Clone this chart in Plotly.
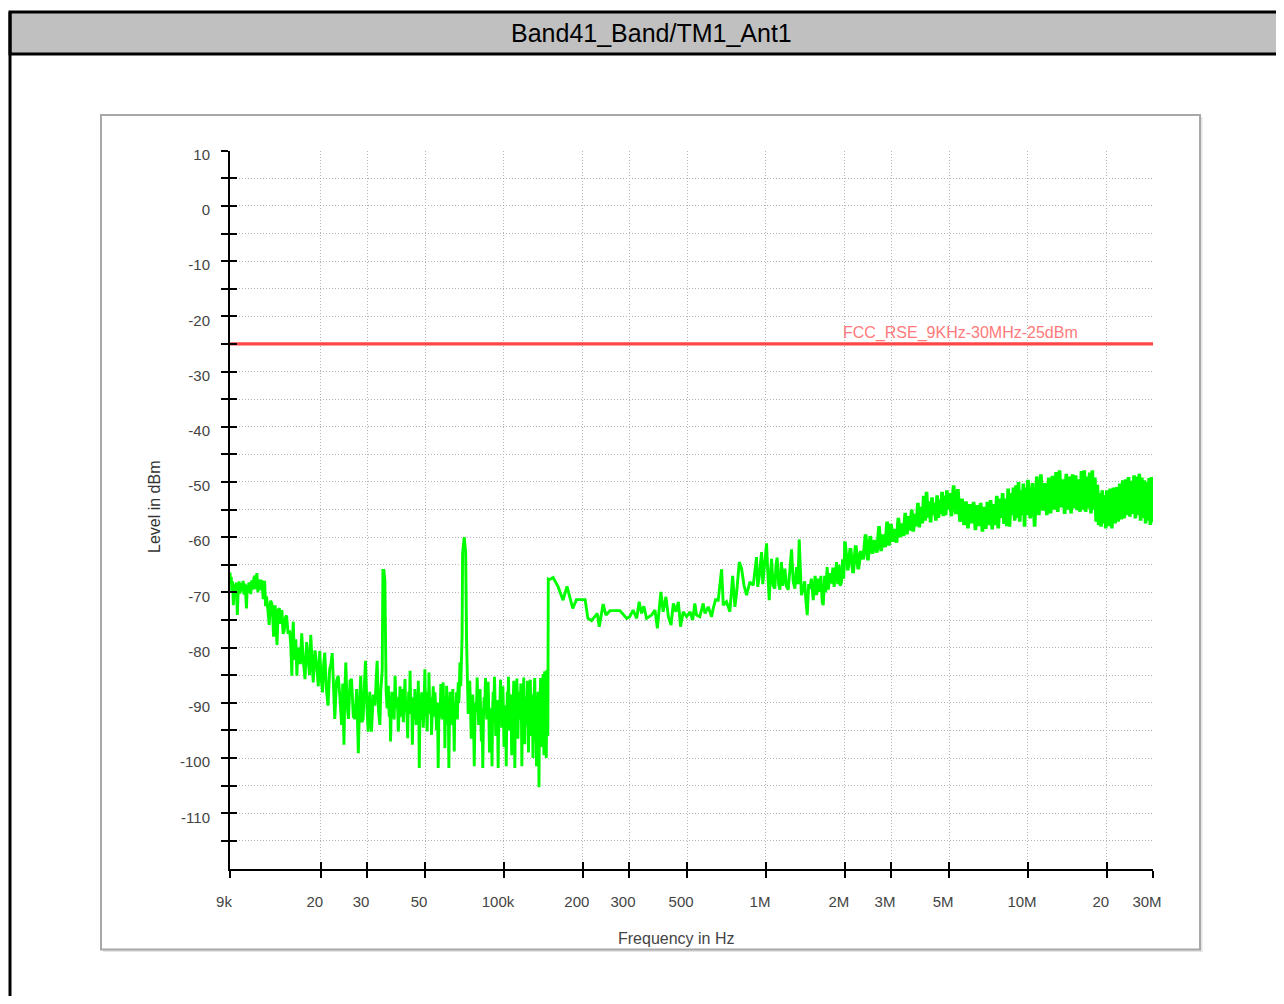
import numpy as np
import plotly.graph_objects as go

# figure fits the 1284x1004 window inside the default 8 px body margin
M = 8
W, H = 1268, 988


def px(x):
    """screen x pixel -> paper fraction"""
    return (x - M) / W


def py(y):
    """screen y pixel -> paper fraction"""
    return 1 - (y - M) / H


# ---------------- data ----------------
# segment A: 9 kHz .. 35.5 kHz (kHz / dBm)
SEG_A_KHZ = [
    9.0, 9.05, 9.1, 9.15, 9.2, 9.27, 9.35, 9.42, 9.5, 9.6,
    9.68, 9.75, 9.83, 9.9, 9.97, 10.1, 10.18, 10.25, 10.32, 10.4,
    10.48, 10.55, 10.62, 10.7, 10.8, 10.9, 11.0, 11.1, 11.2, 11.3,
    11.4, 11.5, 11.6, 11.7, 11.8, 11.9, 12.05, 12.2, 12.3, 12.4,
    12.55, 12.7, 12.85, 13.0, 13.1, 13.2, 13.3, 13.4, 13.5, 13.6,
    13.75, 13.9, 14.05, 14.2, 14.35, 14.5, 14.65, 14.8, 15.0, 15.2,
    15.35, 15.5, 15.6, 15.7, 15.8, 15.9, 16.05, 16.2, 16.35, 16.5,
    16.7, 16.9, 17.15, 17.4, 17.65, 17.9, 18.1, 18.3, 18.5, 18.7,
    19.0, 19.3, 19.55, 19.8, 20.05, 20.3, 20.5, 20.7, 21.0, 21.3,
    21.6, 21.9, 22.1, 22.35, 22.6, 22.95, 23.3, 23.65, 24.0, 24.25,
    24.5, 24.7, 24.9, 25.2, 25.5, 25.85, 26.2, 26.6, 27.0, 27.4,
    27.8, 28.1, 28.4, 28.7, 29.0, 29.3, 29.6, 30.0, 30.3, 30.75,
    31.2, 31.7, 32.2, 32.5, 32.8, 33.2, 33.6, 33.85, 34.1, 34.3,
    34.5, 34.8, 35.1, 35.3, 35.5,
]
SEG_A_DBM = [
    -66.4, -68.5, -67.2, -70.0, -68.0, -72.3, -68.6, -70.5, -68.2, -74.1,
    -69.0, -68.0, -70.2, -68.3, -69.8, -67.9, -70.4, -68.4, -69.9, -72.9,
    -68.6, -70.1, -68.2, -68.6, -70.3, -67.8, -69.5, -67.4, -67.0, -69.4,
    -66.5, -70.0, -67.7, -69.6, -68.0, -67.8, -71.2, -67.9, -72.5, -70.7,
    -73.0, -75.9, -71.5, -72.0, -74.4, -78.0, -72.6, -72.6, -76.0, -79.5,
    -73.2, -72.9, -75.7, -73.2, -77.5, -76.9, -74.5, -74.2, -77.5, -76.9,
    -79.4, -85.1, -78.0, -75.3, -80.5, -82.2, -78.5, -85.1, -80.0, -80.6,
    -83.0, -77.4, -82.5, -85.7, -79.0, -82.2, -85.0, -77.7, -83.0, -86.3,
    -80.5, -83.3, -87.0, -80.6, -85.5, -88.1, -83.0, -80.9, -87.5, -90.5,
    -84.0, -82.7, -81.0, -88.5, -92.9, -86.0, -85.1, -89.0, -94.0, -86.5,
    -97.6, -88.0, -82.7, -90.5, -92.9, -86.0, -85.7, -92.5, -92.9, -87.5,
    -99.1, -90.0, -85.1, -93.5, -92.9, -87.0, -82.4, -91.0, -95.2, -88.0,
    -95.2, -88.5, -90.5, -86.0, -82.4, -91.5, -94.0, -88.0, -85.7, -84.0,
    -66.0, -66.0, -67.8, -80.0, -88.0,
]

# segment B: 35.8 kHz .. 72.6 kHz
SEG_B_KHZ = [
    35.8, 36.0, 36.2, 36.35, 36.5, 36.7, 36.9, 37.1, 37.3, 37.55,
    37.8, 37.95, 38.1, 38.25, 38.4, 38.65, 38.9, 39.2, 39.5, 39.8,
    40.1, 40.4, 40.7, 41.0, 41.3, 41.6, 41.9, 42.15, 42.4, 42.65,
    42.9, 43.1, 43.3, 43.55, 43.8, 44.0, 44.2, 44.45, 44.7, 44.95,
    45.2, 45.45, 45.7, 45.95, 46.2, 46.5, 46.8, 46.95, 47.1, 47.3,
    47.5, 47.75, 48.0, 48.25, 48.5, 48.85, 49.2, 49.55, 49.9, 50.15,
    50.4, 50.65, 50.9, 51.1, 51.3, 51.5, 51.7, 52.0, 52.3, 52.6,
    52.9, 53.3, 53.7, 54.1, 54.5, 54.9, 55.3, 55.7, 56.1, 56.4,
    56.7, 57.05, 57.4, 57.7, 58.0, 58.3, 58.6, 58.8, 59.0, 59.25,
    59.5, 59.75, 60.0, 60.2, 60.4, 60.7, 61.0, 61.3, 61.6, 61.95,
    62.3, 62.7, 63.1, 63.45, 63.8, 64.2, 64.6, 64.9, 65.2, 65.55,
    65.9, 66.15, 66.4, 66.65, 66.9, 67.15, 67.4, 67.65, 67.9, 68.15,
    68.4, 68.65, 68.9, 69.2, 69.5, 70.0, 70.5, 71.0, 71.4, 72.0,
    72.6,
]
SEG_B_DBM = [
    -91.0, -89.0, -86.9, -90.5, -92.5, -89.5, -97.0, -92.0, -88.0, -92.5,
    -89.3, -91.0, -93.0, -89.0, -85.1, -89.5, -91.0, -89.0, -95.2, -91.5,
    -87.0, -92.5, -87.5, -90.5, -93.5, -89.5, -85.7, -91.5, -90.0, -92.5,
    -96.4, -90.5, -88.0, -92.0, -84.2, -89.5, -91.0, -89.0, -97.6, -91.5,
    -89.0, -93.0, -87.5, -90.0, -94.0, -89.0, -91.7, -89.5, -86.0, -92.0,
    -101.8, -92.5, -90.0, -93.0, -88.1, -91.0, -94.5, -90.0, -83.9, -90.5,
    -89.0, -92.0, -95.2, -90.5, -88.0, -91.5, -84.5, -90.0, -92.0, -89.0,
    -95.8, -91.0, -87.0, -92.5, -88.1, -91.0, -95.0, -90.0, -101.8, -92.0,
    -90.0, -92.5, -86.6, -90.5, -93.0, -89.5, -86.3, -91.0, -92.5, -90.0,
    -98.2, -91.5, -89.0, -92.0, -86.9, -90.0, -94.0, -90.5, -101.8, -92.0,
    -88.0, -91.5, -94.0, -90.0, -87.5, -92.0, -98.8, -91.0, -90.0, -92.5,
    -88.1, -90.5, -93.0, -88.5, -86.3, -90.0, -89.0, -86.0, -82.7, -86.5,
    -87.0, -84.0, -81.5, -78.0, -63.0, -60.3, -60.0, -61.5, -62.8, -79.0,
    -87.0,
]

# segment C: 73 kHz .. 147.6 kHz
SEG_C_KHZ = [
    73, 73.5, 74, 74.5, 75, 75.5, 76, 76.5, 77, 77.5,
    78, 78.5, 79, 79.5, 80, 80.5, 81, 81.5, 82, 82.5,
    83, 83.5, 84, 84.5, 85, 85.5, 86, 86.5, 87, 87.5,
    88, 88.5, 89, 89.5, 90, 90.5, 91, 91.5, 92, 92.5,
    93, 93.5, 94, 94.5, 95, 95.5, 96, 96.5, 97, 97.5,
    98, 98.5, 99, 99.5, 100, 100.5, 101, 101.5, 102, 102.5,
    103, 103.5, 104, 104.5, 105, 105.5, 106, 106.5, 107, 107.5,
    108, 108.5, 109, 109.5, 110, 110.5, 111, 111.5, 112, 112.5,
    113, 113.5, 114, 114.5, 115, 115.5, 116, 116.5, 117, 117.5,
    118, 118.5, 119, 119.5, 120, 120.5, 121, 121.5, 122, 122.5,
    123, 123.5, 124, 124.5, 125, 125.5, 126, 126.5, 127, 127.5,
    128, 128.5, 129, 129.5, 130, 130.5, 131, 131.5, 132, 132.5,
    133, 133.5, 134, 134.5, 135, 135.5, 136, 136.5, 137, 137.5,
    138, 138.5, 139, 139.5, 140, 140.5, 141, 141.5, 142, 142.5,
    143, 143.5, 144, 144.5, 145, 145.5, 146, 146.5, 147, 147.6,
]
SEG_C_DBM = [
    -92.0, -89.0, -86.0, -91.0, -96.5, -91.5, -88.5, -92.5, -101.5, -92.0,
    -90.0, -91.5, -85.4, -90.0, -94.0, -89.5, -87.5, -92.0, -97.0, -91.0,
    -101.8, -92.5, -89.0, -91.0, -85.5, -90.5, -93.0, -89.0, -86.2, -91.5,
    -99.0, -92.0, -91.0, -93.0, -101.5, -91.5, -88.0, -91.0, -85.3, -90.0,
    -96.0, -91.0, -89.5, -92.5, -101.8, -92.0, -92.0, -89.5, -85.8, -90.5,
    -94.5, -90.0, -87.0, -91.5, -98.0, -92.0, -90.5, -93.0, -101.5, -92.5,
    -88.0, -91.0, -85.3, -90.0, -95.0, -90.5, -88.5, -92.0, -99.5, -91.5,
    -91.0, -89.0, -86.0, -91.0, -101.8, -92.5, -89.5, -91.0, -85.6, -90.0,
    -96.5, -91.5, -88.0, -92.0, -93.0, -89.5, -86.5, -91.0, -101.5, -92.0,
    -92.0, -89.0, -85.4, -90.5, -97.5, -91.5, -89.0, -92.5, -94.0, -90.0,
    -86.0, -91.0, -99.0, -92.0, -90.5, -89.0, -85.8, -91.0, -96.0, -91.5,
    -88.5, -92.0, -100.0, -92.5, -91.0, -89.5, -85.5, -90.5, -97.0, -92.0,
    -101.5, -93.0, -90.0, -91.5, -88.0, -93.0, -105.3, -94.0, -92.0, -89.0,
    -85.5, -90.5, -98.0, -92.0, -89.0, -91.5, -84.8, -90.0, -99.5, -91.0,
    -84.3, -90.5, -95.0, -91.0, -100.0, -90.0, -84.0, -91.0, -96.0, -67.6,
]

# segment D: 149 kHz .. 2 MHz
SEG_D_KHZ = [
    149, 154, 161, 168, 174, 183, 189, 204, 209, 216,
    227, 231, 239, 245, 254, 277, 294, 302, 311, 321,
    328, 335, 342, 350, 366, 377, 385, 397, 405, 415,
    424, 434, 443, 453, 463, 472, 483, 498, 513, 525,
    535, 543, 559, 576, 585, 602, 620, 629, 642, 657,
    677, 687, 707, 728, 746, 761, 772, 791, 807, 824,
    843, 868, 894, 920, 930, 942, 962, 972, 982, 1005,
    1015, 1029, 1040, 1050, 1065, 1081, 1092, 1103, 1117, 1130,
    1145, 1160, 1181, 1198, 1216, 1235, 1252, 1270, 1289, 1308,
    1325, 1339, 1350, 1365, 1387, 1405, 1420, 1437, 1455, 1471,
    1490, 1514, 1540, 1560, 1582, 1600, 1620, 1640, 1654, 1675,
    1690, 1712, 1730, 1755, 1779, 1800, 1820, 1840, 1859, 1880,
    1900, 1920, 1943, 1960, 1980, 2000,
]
SEG_D_DBM = [
    -67.7, -67.3, -69.0, -71.4, -68.9, -72.9, -71.3, -71.3, -74.7, -75.1,
    -73.8, -76.2, -72.1, -74.1, -73.3, -73.3, -74.7, -74.4, -73.2, -74.7,
    -71.7, -73.8, -72.5, -74.7, -74.1, -73.2, -76.5, -69.9, -73.5, -70.8,
    -74.4, -75.9, -72.0, -73.5, -71.7, -76.2, -73.5, -74.4, -73.5, -75.0,
    -72.0, -74.1, -74.4, -72.0, -73.8, -72.6, -74.4, -72.9, -71.3, -71.4,
    -65.8, -72.3, -71.7, -73.5, -67.0, -72.6, -70.2, -64.5, -65.7, -68.7,
    -70.5, -68.1, -68.7, -63.6, -69.0, -67.2, -62.7, -68.5, -66.0, -61.1,
    -66.0, -71.4, -66.5, -63.9, -68.8, -69.3, -65.0, -63.7, -68.5, -69.5,
    -64.5, -68.8, -65.7, -69.0, -69.5, -66.0, -62.2, -68.0, -69.3, -65.4,
    -68.5, -60.4, -66.0, -70.5, -69.3, -68.0, -71.5, -74.1, -68.5, -69.3,
    -67.5, -71.4, -67.0, -70.5, -67.5, -69.9, -67.0, -71.8, -72.3, -67.0,
    -70.0, -65.4, -69.5, -66.5, -68.4, -65.5, -69.0, -66.0, -64.5, -68.5,
    -65.0, -68.8, -68.1, -64.0, -67.5, -60.8,
]

# segment E: 2.05 MHz .. 30 MHz (MHz / dBm)
SEG_E_MHZ = [
    2.05, 2.10, 2.15, 2.20, 2.25, 2.30, 2.35, 2.40, 2.45, 2.50,
    2.55, 2.60, 2.65, 2.70, 2.75, 2.80, 2.85, 2.90, 2.95, 3.00,
    3.05, 3.10, 3.15, 3.20, 3.25, 3.30, 3.35, 3.40, 3.45, 3.50,
    3.55, 3.60, 3.65, 3.70, 3.75, 3.80, 3.85, 3.90, 3.95, 4.00,
    4.05, 4.10, 4.15, 4.20, 4.25, 4.30, 4.35, 4.40, 4.45, 4.50,
    4.55, 4.60, 4.65, 4.70, 4.75, 4.80, 4.85, 4.90, 4.95, 5.00,
    5.1, 5.2, 5.3, 5.4, 5.5, 5.6, 5.7, 5.8, 5.9, 6.0,
    6.1, 6.2, 6.3, 6.4, 6.5, 6.6, 6.7, 6.8, 6.9, 7.0,
    7.1, 7.2, 7.3, 7.4, 7.5, 7.6, 7.7, 7.8, 7.9, 8.0,
    8.1, 8.2, 8.3, 8.4, 8.5, 8.6, 8.7, 8.8, 8.9, 9.0,
    9.1, 9.2, 9.3, 9.4, 9.5, 9.6, 9.7, 9.8, 9.9, 10.0,
    10.2, 10.4, 10.6, 10.8, 11.0, 11.2, 11.4, 11.6, 11.8, 12.0,
    12.2, 12.4, 12.6, 12.8, 13.0, 13.2, 13.4, 13.6, 13.8, 14.0,
    14.2, 14.4, 14.6, 14.8, 15.0, 15.2, 15.4, 15.6, 15.8, 16.0,
    16.2, 16.4, 16.6, 16.8, 17.0, 17.2, 17.4, 17.6, 17.8, 18.0,
    18.2, 18.4, 18.6, 18.8, 19.0, 19.2, 19.4, 19.6, 19.8, 20.0,
    20.3, 20.6, 20.9, 21.2, 21.5, 21.8, 22.1, 22.4, 22.7, 23.0,
    23.3, 23.6, 23.9, 24.2, 24.5, 24.8, 25.1, 25.4, 25.7, 26.0,
    26.3, 26.6, 26.9, 27.2, 27.5, 27.8, 28.1, 28.4, 28.7, 29.0,
    29.3, 29.6, 29.9, 30.0,
]
SEG_E_DBM = [
    -66.0, -62.0, -66.5, -61.5, -65.8, -62.5, -64.0, -59.5, -64.2, -59.8,
    -63.0, -60.5, -62.8, -58.0, -62.5, -59.5, -61.8, -57.2, -61.5, -57.6,
    -60.8, -58.5, -61.0, -56.5, -60.0, -57.5, -59.8, -55.6, -59.5, -56.2,
    -58.8, -55.0, -59.0, -55.8, -58.0, -53.8, -58.2, -54.5, -57.5, -52.5,
    -57.0, -51.8, -56.5, -53.5, -57.3, -52.8, -56.0, -53.8, -57.0, -52.4,
    -56.5, -53.2, -55.8, -51.8, -56.2, -52.5, -56.0, -51.5, -55.0, -52.0,
    -56.2, -50.6, -55.8, -51.3, -57.2, -53.0, -57.8, -53.5, -58.4, -54.0,
    -57.5, -53.6, -58.7, -54.2, -58.0, -53.8, -59.0, -54.5, -58.5, -53.6,
    -57.8, -53.3, -58.6, -54.0, -57.8, -52.5, -58.4, -53.0, -56.5, -52.0,
    -57.6, -53.0, -58.0, -51.2, -58.1, -52.0, -56.0, -51.0, -57.0, -50.6,
    -56.5, -50.0, -57.2, -51.5, -56.0, -50.3, -58.1, -51.0, -56.0, -49.6,
    -56.6, -50.2, -58.1, -49.0, -56.0, -48.6, -55.2, -50.2, -56.0, -49.2,
    -55.7, -48.9, -55.0, -48.2, -55.4, -47.9, -54.6, -49.5, -55.8, -48.5,
    -55.0, -49.0, -55.7, -48.6, -54.8, -48.8, -55.1, -49.5, -55.4, -48.0,
    -55.0, -47.9, -55.4, -49.0, -54.8, -48.3, -55.7, -47.9, -55.0, -49.2,
    -57.2, -50.5, -57.8, -52.0, -58.1, -51.5, -57.5, -52.4, -58.4, -51.5,
    -58.0, -51.2, -58.4, -51.0, -57.5, -50.9, -57.2, -50.3, -56.8, -49.7,
    -56.6, -49.5, -56.0, -49.1, -56.3, -49.8, -55.8, -48.8, -56.6, -49.0,
    -56.0, -48.5, -57.0, -49.2, -56.5, -49.7, -57.5, -50.0, -57.0, -49.3,
    -57.8, -49.1, -57.3, -53.0,
]

LIMIT_HZ = [9e3, 30e6]
LIMIT_DBM = [-25, -25]
LIMIT_NAME = "FCC_RSE_9KHz-30MHz-25dBm"

TITLE = "Band41_Band/TM1_Ant1"
X_TITLE = "Frequency in Hz"
Y_TITLE = "Level in dBm"

X_TICK_HZ = [9e3, 20e3, 30e3, 50e3, 100e3, 200e3, 300e3, 500e3,
             1e6, 2e6, 3e6, 5e6, 10e6, 20e6, 30e6]
X_TICK_TEXT = ["9k", "20", "30", "50", "100k", "200", "300", "500",
               "1M", "2M", "3M", "5M", "10M", "20", "30M"]
Y_TICKS = [-115, -110, -105, -100, -95, -90, -85, -80, -75, -70, -65, -60,
           -55, -50, -45, -40, -35, -30, -25, -20, -15, -10, -5, 0, 5, 10]
Y_TICK_TEXT = [str(v) if v % 10 == 0 else "" for v in Y_TICKS]

for a, b in [(SEG_A_KHZ, SEG_A_DBM), (SEG_B_KHZ, SEG_B_DBM), (SEG_C_KHZ, SEG_C_DBM),
             (SEG_D_KHZ, SEG_D_DBM), (SEG_E_MHZ, SEG_E_DBM)]:
    assert len(a) == len(b), (len(a), len(b))

# low band (9 kHz - 2 MHz) and the dense high band (2 MHz - 30 MHz)
low_hz = [f * 1e3 for f in SEG_A_KHZ + SEG_B_KHZ + SEG_C_KHZ + SEG_D_KHZ]
low_dbm = SEG_A_DBM + SEG_B_DBM + SEG_C_DBM + SEG_D_DBM
high_hz = [low_hz[-1]] + [f * 1e6 for f in SEG_E_MHZ]
high_dbm = [low_dbm[-1]] + SEG_E_DBM

# ---------------- figure ----------------
X_RANGE = [np.log10(9e3), np.log10(30e6)]
Y_RANGE = [-120, 10]
XDOM = [px(230), px(1153)]
YDOM = [py(868.5), py(150.7)]

FONT = "Liberation Sans, Arial, sans-serif"
TICK_FONT = dict(family=FONT, size=15, color="#444444")
GRID = dict(showgrid=True, gridcolor="#B4B4B4", gridwidth=1, griddash="1px,2px")
GREEN = "#00FF00"

fig = go.Figure()
fig.add_trace(go.Scatter(x=LIMIT_HZ, y=LIMIT_DBM, mode="lines",
                         line=dict(color="#FF4646", width=3.2),
                         hoverinfo="skip", showlegend=False))
fig.add_trace(go.Scatter(x=low_hz, y=low_dbm, mode="lines",
                         line=dict(color=GREEN, width=2.9),
                         hoverinfo="skip", showlegend=False))
fig.add_trace(go.Scatter(x=high_hz, y=high_dbm, mode="lines",
                         line=dict(color=GREEN, width=3.6),
                         hoverinfo="skip", showlegend=False))
# empty trace so the inner-tick overlay axes are drawn
fig.add_trace(go.Scatter(x=[], y=[], xaxis="x2", yaxis="y2",
                         hoverinfo="skip", showlegend=False))

inner_ticks = dict(showline=False, zeroline=False, showgrid=False, automargin=False,
                   ticks="inside", ticklen=7, tickwidth=2, tickcolor="black",
                   showticklabels=False)

fig.update_layout(
    width=W, height=H, autosize=False,
    margin=dict(l=0, r=0, t=0, b=0, pad=0, autoexpand=False),
    paper_bgcolor="white", plot_bgcolor="rgba(0,0,0,0)",
    showlegend=False,
    xaxis=dict(type="log", range=X_RANGE, domain=XDOM, anchor="y", automargin=False,
               showline=True, linecolor="black", linewidth=2,
               ticks="outside", ticklen=7, tickwidth=2, tickcolor="black",
               tickvals=X_TICK_HZ, ticktext=X_TICK_TEXT, tickfont=TICK_FONT,
               ticklabelstandoff=11, ticklabelshift=-6,
               zeroline=False, fixedrange=True, **GRID),
    yaxis=dict(range=Y_RANGE, domain=YDOM, anchor="x", automargin=False,
               showline=True, linecolor="black", linewidth=2,
               ticks="outside", ticklen=7, tickwidth=2, tickcolor="black",
               tickvals=Y_TICKS, ticktext=Y_TICK_TEXT, tickfont=TICK_FONT,
               ticklabelstandoff=8, ticklabelshift=4,
               zeroline=False, fixedrange=True, **GRID),
    xaxis2=dict(type="log", range=X_RANGE, overlaying="x", anchor="y",
                side="bottom", tickvals=X_TICK_HZ, **inner_ticks),
    yaxis2=dict(range=Y_RANGE, overlaying="y", anchor="x", side="left",
                tickvals=Y_TICKS, **inner_ticks),
)

shapes = [
    # panel shadow
    dict(type="rect", xref="paper", yref="paper", layer="below",
         x0=px(103), x1=px(1202.5), y0=py(952), y1=py(117),
         fillcolor="#E4E4E4", line=dict(width=0)),
    # panel
    dict(type="rect", xref="paper", yref="paper", layer="below",
         x0=px(101), x1=px(1200), y0=py(949.5), y1=py(115),
         fillcolor="white", line=dict(color="#A8A8A8", width=2)),
    # title band
    dict(type="rect", xref="paper", yref="paper", layer="below",
         x0=px(10), x1=px(1300), y0=py(54), y1=py(12),
         fillcolor="#C0C0C0", line=dict(color="black", width=3)),
    # outer left border
    dict(type="line", xref="paper", yref="paper", layer="below",
         x0=px(10), x1=px(10), y0=py(12), y1=py(1010),
         line=dict(color="black", width=3)),
]
fig.update_layout(shapes=shapes)

fig.add_annotation(text=TITLE, xref="paper", yref="paper",
                   x=px(651), y=py(33), xanchor="center", yanchor="middle",
                   showarrow=False, font=dict(family=FONT, size=25, color="black"))
fig.add_annotation(text=X_TITLE, xref="paper", yref="paper",
                   x=px(676), y=py(938), xanchor="center", yanchor="middle",
                   showarrow=False, font=dict(family=FONT, size=16, color="#444444"))
fig.add_annotation(text=Y_TITLE, xref="paper", yref="paper", textangle=-90,
                   x=px(155), y=py(507), xanchor="center", yanchor="middle",
                   showarrow=False, font=dict(family=FONT, size=16, color="#333333"))
fig.add_annotation(text=LIMIT_NAME, xref="x", yref="y",
                   x=np.log10(2e6), y=LIMIT_DBM[0], xanchor="left", yanchor="bottom",
                   yshift=0, xshift=-4, showarrow=False,
                   font=dict(family=FONT, size=16, color="#FF7A7A"))

fig.write_html("out.html", config={"displayModeBar": False, "staticPlot": True})
